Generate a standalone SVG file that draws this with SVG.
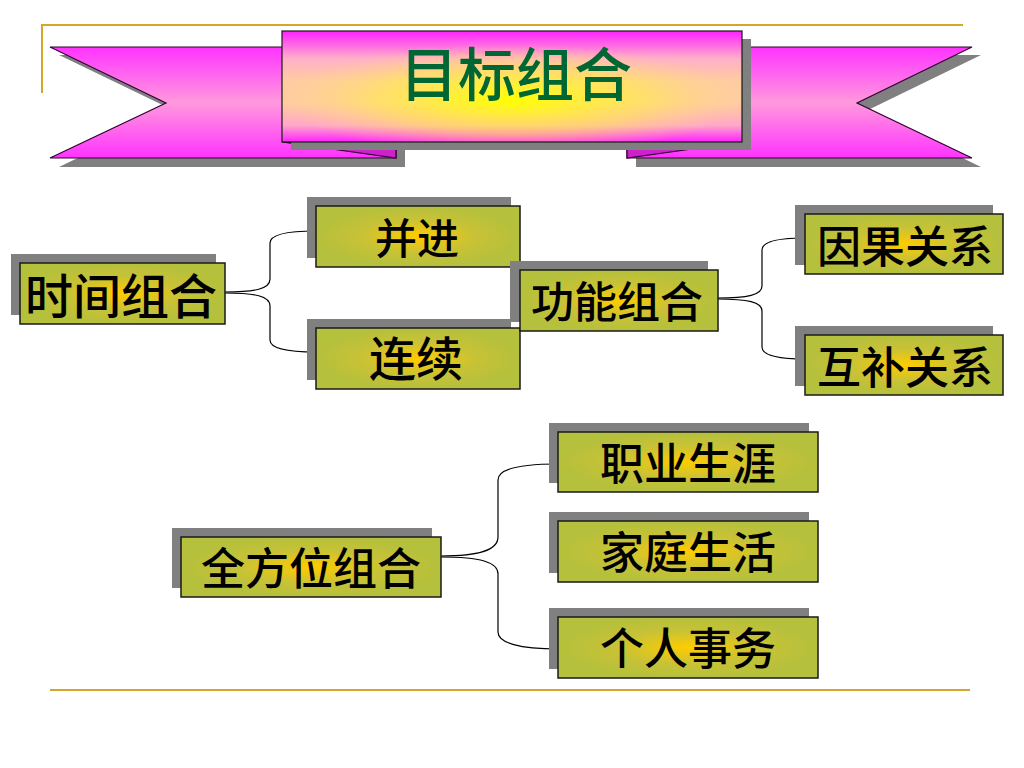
<svg xmlns="http://www.w3.org/2000/svg" width="1024" height="768" viewBox="0 0 1024 768">
<defs>
<linearGradient id="ribbon" x1="0" y1="0" x2="0" y2="1">
<stop offset="0" stop-color="#FF33FF"/>
<stop offset="0.5" stop-color="#FF99DD"/>
<stop offset="1" stop-color="#FF33FF"/>
</linearGradient>
<linearGradient id="center" x1="0" y1="0" x2="0" y2="1">
<stop offset="0" stop-color="#FF22FF"/>
<stop offset="0.25" stop-color="#FFB0C8"/>
<stop offset="0.45" stop-color="#FFCCA0"/>
<stop offset="0.65" stop-color="#FFCCA0"/>
<stop offset="0.85" stop-color="#FFA8C8"/>
<stop offset="1" stop-color="#FF22FF"/>
</linearGradient>
<radialGradient id="centerGlow" cx="0.5" cy="0.62" r="0.5">
<stop offset="0" stop-color="#FFFF00" stop-opacity="1"/>
<stop offset="0.6" stop-color="#FFF040" stop-opacity="0.5"/>
<stop offset="1" stop-color="#FFE080" stop-opacity="0"/>
</radialGradient>
<radialGradient id="node" cx="0.5" cy="0.5" r="0.5">
<stop offset="0" stop-color="#FFCC00"/>
<stop offset="0.55" stop-color="#C8C236"/>
<stop offset="1" stop-color="#B5C03C"/>
</radialGradient>
<style>
.frame{stroke:#D4A62A;stroke-width:2;fill:none}
.shadow{fill:#808080}
.box{fill:url(#node);stroke:#1a1a1a;stroke-width:1.5}
.lbl{font-family:"Noto Sans CJK SC","Noto Sans",sans-serif;font-weight:500;fill:#000;text-anchor:middle}
.conn{fill:none;stroke:#000;stroke-width:1.2}
.rib{fill:url(#ribbon);stroke:#330033;stroke-width:1.2}
.fold{fill:#CC22CC;stroke:#330033;stroke-width:1.2}
</style>
</defs>
<rect width="1024" height="768" fill="#FFFFFF"/>
<g id="frame">
<path class="frame" d="M42,93 V25 H963"/>
<path class="frame" d="M50,690 H970"/>
</g>
<g id="banner">
<polygon class="shadow" points="59,55 405,55 405,167 59,167 175,111"/>
<polygon class="shadow" points="636,55 981,55 866,111 981,167 636,167"/>
<polygon class="rib" points="50,47 396,47 396,158 50,158 166,103"/>
<polygon class="rib" points="627,47 972,47 857,103 972,158 627,158"/>
<polygon class="fold" points="282,142 396,158 396,142"/>
<polygon class="fold" points="742,142 627,158 627,142"/>
<rect class="shadow" x="291" y="39" width="460" height="111"/>
<rect x="282" y="31" width="460" height="111" fill="url(#center)"/>
<rect x="282" y="31" width="460" height="111" fill="url(#centerGlow)" stroke="#1a1a1a" stroke-width="1.2"/>
<text x="516" y="96" font-family="'Noto Sans CJK SC','Noto Sans',sans-serif" font-size="58" font-weight="500" fill="#006633" text-anchor="middle">目标组合</text>
</g>
<g id="connectors">
<path class="conn" d="M225,292 C255,292 270,289 270,279 L270,243 C270,234 290,231 316,231"/>
<path class="conn" d="M225,293 C255,293 270,296 270,306 L270,340 C270,349 290,352 316,352"/>
<path class="conn" d="M717,298 C748,298 762,295 762,286 L762,250 C762,241 780,238 805,238"/>
<path class="conn" d="M717,299 C748,299 762,302 762,311 L762,347 C762,356 780,359 805,359"/>
<path class="conn" d="M441,556 C480,556 498,550 498,537 L498,480 C498,469 520,464 558,464"/>
<path class="conn" d="M441,557 C480,557 498,562 498,574 L498,632 C498,643 520,649 558,649"/>
</g>
<g id="n-shijian">
<rect class="shadow" x="11" y="254" width="205" height="61"/>
<rect class="box" x="20" y="263" width="205" height="61"/>
<text class="lbl" x="121" y="314" font-size="48">时间组合</text>
</g>
<g id="n-bingjin">
<rect class="shadow" x="307" y="197" width="204" height="61"/>
<rect class="box" x="316" y="206" width="204" height="61"/>
<text class="lbl" x="417" y="254" font-size="42">并进</text>
</g>
<g id="n-lianxu">
<rect class="shadow" x="307" y="319" width="204" height="61"/>
<rect class="box" x="316" y="328" width="204" height="61"/>
<text class="lbl" x="416" y="376" font-size="47">连续</text>
</g>
<g id="n-gongneng">
<rect class="shadow" x="510" y="261" width="198" height="61"/>
<rect class="box" x="520" y="270" width="198" height="61"/>
<text class="lbl" x="617" y="318" font-size="43">功能组合</text>
</g>
<g id="n-yinguo">
<rect class="shadow" x="795" y="205" width="198" height="60"/>
<rect class="box" x="805" y="214" width="198" height="60"/>
<text class="lbl" x="905" y="263" font-size="44">因果关系</text>
</g>
<g id="n-hubu">
<rect class="shadow" x="795" y="326" width="198" height="60"/>
<rect class="box" x="805" y="335" width="198" height="60"/>
<text class="lbl" x="905" y="384" font-size="44">互补关系</text>
</g>
<g id="n-quanfangwei">
<rect class="shadow" x="172" y="528" width="260" height="60"/>
<rect class="box" x="181" y="537" width="260" height="60"/>
<text class="lbl" x="311" y="585" font-size="44">全方位组合</text>
</g>
<g id="n-zhiye">
<rect class="shadow" x="549" y="423" width="260" height="60"/>
<rect class="box" x="558" y="432" width="260" height="60"/>
<text class="lbl" x="688" y="480" font-size="44">职业生涯</text>
</g>
<g id="n-jiating">
<rect class="shadow" x="549" y="512" width="260" height="61"/>
<rect class="box" x="558" y="521" width="260" height="61"/>
<text class="lbl" x="688" y="569" font-size="44">家庭生活</text>
</g>
<g id="n-geren">
<rect class="shadow" x="549" y="608" width="260" height="61"/>
<rect class="box" x="558" y="617" width="260" height="61"/>
<text class="lbl" x="688" y="665" font-size="44">个人事务</text>
</g>
</svg>
